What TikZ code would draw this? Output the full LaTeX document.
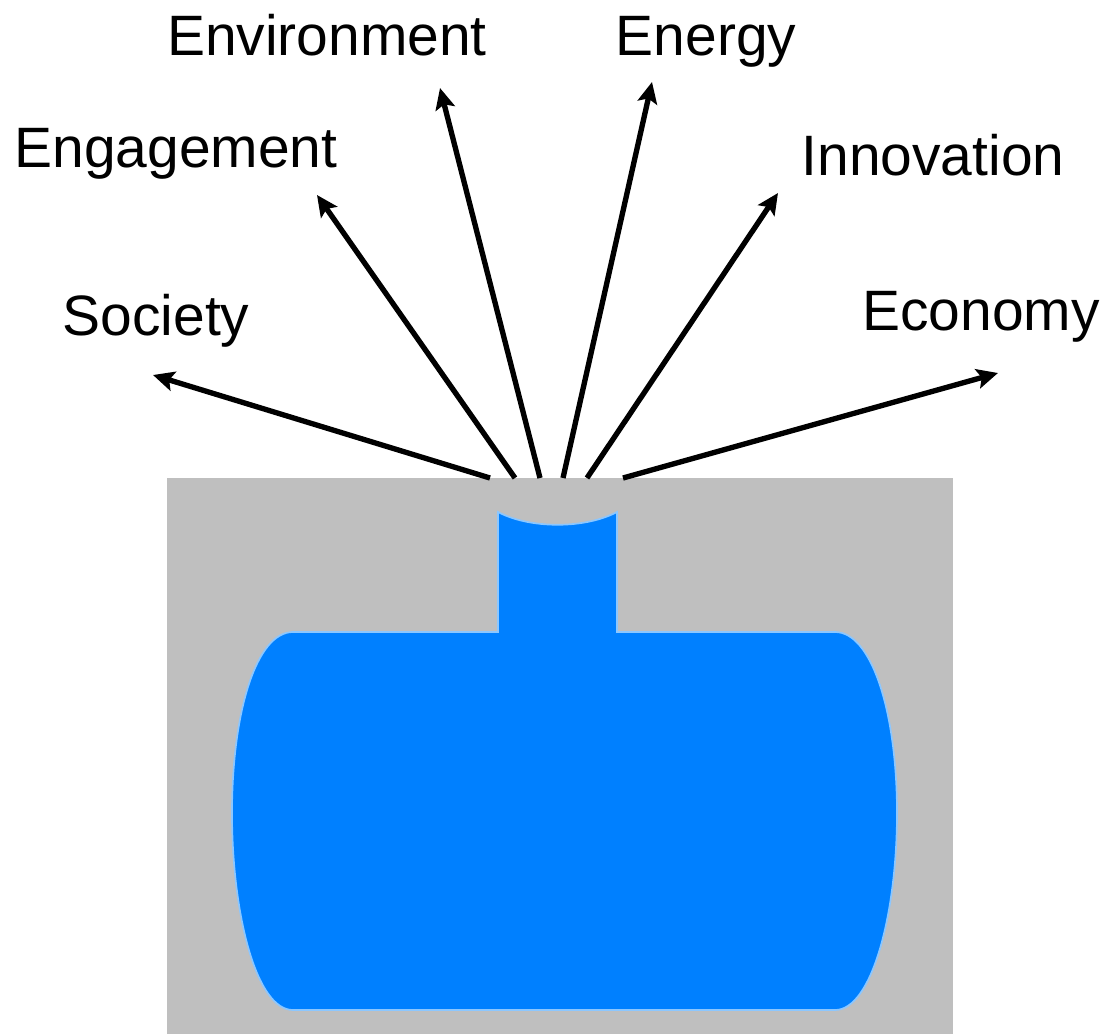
\documentclass[tikz,border=0pt]{standalone}
\usepackage{fontspec}
\setmainfont{Liberation Sans}
\usetikzlibrary{arrows.meta}
\definecolor{tankgray}{rgb}{0.75, 0.75, 0.75}
\definecolor{tankblue}{rgb}{0.0, 0.5, 1.0}
\definecolor{rimblue}{rgb}{0.55, 0.78, 1.0}

\begin{document}
\begin{tikzpicture}[x=0.025cm,y=-0.025cm,
		ray/.style={line width=3.8pt,-{Stealth[length=15pt,width=14pt,inset=3pt]}},
		goal/.style={anchor=base,inner sep=0pt,font=\fontsize{40.5}{48}\selectfont}
	]
	\useasboundingbox (0,0) rectangle (1107,1034);

	% Background block
	\fill[tankgray] (167,478) rectangle (953,1034);

	% Tank body with neck
	\filldraw[tankblue,draw=rimblue,line width=1.2pt]
		(498,632) -- (498,512) .. controls (530,529) and (585,529) .. (617,512)
		-- (617,632) -- (835,632)
		.. controls (872,632) and (897,713) .. (897,813)
		.. controls (897,913) and (872,1010) .. (835,1010)
		-- (293,1010)
		.. controls (256,1010) and (232,913) .. (232,813)
		.. controls (232,713) and (256,632) .. (293,632) -- cycle;

	% Labels
	\node[goal] (society) at (156,335) {Society};
	\node[goal] (engagement) at (176,167) {Engagement};
	\node[goal] (environment) at (327,55) {Environment};
	\node[goal] (energy) at (706,55) {Energy};
	\node[goal] (innovation) at (933,175) {Innovation};
	\node[goal] (economy) at (981,330) {Economy};

	% Feet and tips of the arrows
	\coordinate (soc-foot) at (490,478);
	\coordinate (eng-foot) at (515,478);
	\coordinate (env-foot) at (540,478);
	\coordinate (ene-foot) at (563,478);
	\coordinate (inn-foot) at (587,478);
	\coordinate (eco-foot) at (623,478);
	\coordinate (soc-tip) at (153,375);
	\coordinate (eng-tip) at (317,195);
	\coordinate (env-tip) at (440,88);
	\coordinate (ene-tip) at (652,82);
	\coordinate (inn-tip) at (778,193);
	\coordinate (eco-tip) at (998,373);

	\draw[ray] (soc-foot) -- (soc-tip);
	\draw[ray] (eng-foot) -- (eng-tip);
	\draw[ray] (env-foot) -- (env-tip);
	\draw[ray] (ene-foot) -- (ene-tip);
	\draw[ray] (inn-foot) -- (inn-tip);
	\draw[ray] (eco-foot) -- (eco-tip);
\end{tikzpicture}
\end{document}
